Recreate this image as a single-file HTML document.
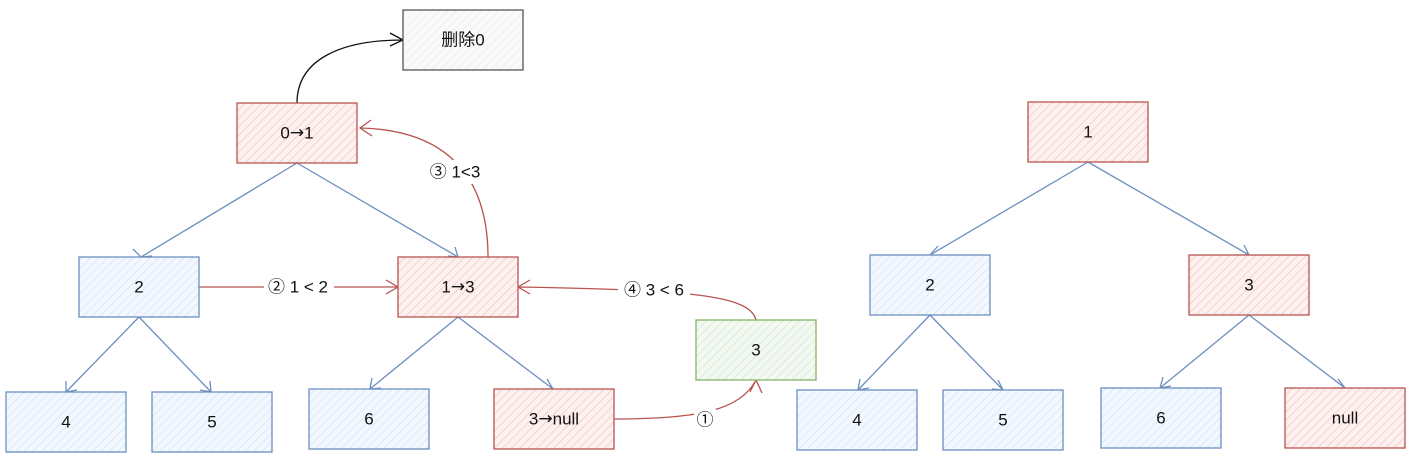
<!DOCTYPE html>
<html><head><meta charset="utf-8"><style>
html,body{margin:0;padding:0;background:#fff;}
svg{display:block;}
text{font-family:"Liberation Sans","Noto Sans CJK SC",sans-serif;font-size:17px;fill:#111;text-anchor:middle;dominant-baseline:central;}
tspan.a{font-family:"DejaVu Sans",sans-serif;}
</style></head><body>
<svg width="1413" height="461" viewBox="0 0 1413 461" xmlns="http://www.w3.org/2000/svg">
<defs>
<pattern id="hr" width="6" height="6" patternUnits="userSpaceOnUse" patternTransform="rotate(45)"><rect width="6" height="6" fill="#fdf1f0"/><line x1="0" y1="0" x2="0" y2="6" stroke="#f4c4c1" stroke-width="1.5"/></pattern>
<pattern id="hb" width="6" height="6" patternUnits="userSpaceOnUse" patternTransform="rotate(45)"><rect width="6" height="6" fill="#f3f8fe"/><line x1="0" y1="0" x2="0" y2="6" stroke="#d3e3fa" stroke-width="1.5"/></pattern>
<pattern id="hg" width="6" height="6" patternUnits="userSpaceOnUse" patternTransform="rotate(45)"><rect width="6" height="6" fill="#f3f9f2"/><line x1="0" y1="0" x2="0" y2="6" stroke="#d2e7cf" stroke-width="1.5"/></pattern>
<pattern id="hk" width="6" height="6" patternUnits="userSpaceOnUse" patternTransform="rotate(45)"><rect width="6" height="6" fill="#fafafa"/><line x1="0" y1="0" x2="0" y2="6" stroke="#ececec" stroke-width="1.5"/></pattern>
</defs>
<g fill="none" stroke-width="1.3">
<g stroke="#6c8ebf">
<path d="M297 163 L141 257 M133 249 L141 257 L152 256"/>
<path d="M297 163 L458 257 M448 256 L458 257 L455 247"/>
<path d="M139 317 L66 392 M66 381 L66 392 L77 390"/>
<path d="M139 317 L211 392 M210 381 L211 392 L200 390"/>
<path d="M458 317 L370 389 M372 378 L370 389 L381 388"/>
<path d="M458 317 L553 389 M547 379 L553 389 L542 389"/>
<path d="M1088 162 L930 255 M938 246 L930 255 L941 256"/>
<path d="M1088 162 L1249 255 M1244 245 L1249 255 L1238 255"/>
<path d="M930 315 L858 390 M860 379 L858 390 L869 388"/>
<path d="M930 315 L1003 390 M998 380 L1003 390 L992 389"/>
<path d="M1249 315 L1160 388 M1163 377 L1160 388 L1171 386"/>
<path d="M1249 315 L1345 388 M1338 379 L1345 388 L1335 388"/>
</g>
<path stroke="#111" d="M297 103 C297 60 340 40 403 40 M390 33 L403 40 L390 46"/>
<g stroke="#b85450">
<path d="M488 257 C488 180 450 130 360 128 M371 120 L360 128 L372 136"/>
<path d="M199 287 L398 287 M386 280 L398 287 L386 294"/>
<path d="M756 320 C750 295 690 290 518 287 M530 280 L518 287 L530 294"/>
<path d="M614 419 C700 419 740 410 756 380 M750 392 L756 380 L762 393"/>
</g>
</g>
<rect x="422" y="160" width="66" height="24" fill="#fff"/>
<rect x="264" y="276" width="70" height="22" fill="#fff"/>
<rect x="618" y="279" width="72" height="22" fill="#fff"/>
<rect x="694" y="409" width="22" height="22" fill="#fff"/>
<text x="455" y="172">③ 1&lt;3</text>
<text x="298" y="287">② 1 &lt; 2</text>
<text x="654" y="290">④ 3 &lt; 6</text>
<text x="705" y="420">①</text>
<g stroke-width="1.3">
<rect x="403" y="10" width="120" height="60" fill="url(#hk)" stroke="#555"/>
<rect x="237" y="103" width="120" height="60" fill="url(#hr)" stroke="#b85450"/>
<rect x="79" y="257" width="120" height="60" fill="url(#hb)" stroke="#6c8ebf"/>
<rect x="398" y="257" width="120" height="60" fill="url(#hr)" stroke="#b85450"/>
<rect x="6" y="392" width="120" height="60" fill="url(#hb)" stroke="#6c8ebf"/>
<rect x="152" y="392" width="120" height="60" fill="url(#hb)" stroke="#6c8ebf"/>
<rect x="309" y="389" width="120" height="60" fill="url(#hb)" stroke="#6c8ebf"/>
<rect x="494" y="389" width="120" height="60" fill="url(#hr)" stroke="#b85450"/>
<rect x="696" y="320" width="120" height="60" fill="url(#hg)" stroke="#82b366"/>
<rect x="1028" y="102" width="120" height="60" fill="url(#hr)" stroke="#b85450"/>
<rect x="870" y="255" width="120" height="60" fill="url(#hb)" stroke="#6c8ebf"/>
<rect x="1189" y="255" width="120" height="60" fill="url(#hr)" stroke="#b85450"/>
<rect x="797" y="390" width="120" height="60" fill="url(#hb)" stroke="#6c8ebf"/>
<rect x="943" y="390" width="120" height="60" fill="url(#hb)" stroke="#6c8ebf"/>
<rect x="1101" y="388" width="120" height="60" fill="url(#hb)" stroke="#6c8ebf"/>
<rect x="1285" y="388" width="120" height="60" fill="url(#hr)" stroke="#b85450"/>
</g>
<text x="463" y="40">删除0</text>
<text x="297" y="133">0<tspan class="a">→</tspan>1</text>
<text x="139" y="287">2</text>
<text x="458" y="287">1<tspan class="a">→</tspan>3</text>
<text x="66" y="422">4</text>
<text x="212" y="422">5</text>
<text x="369" y="419">6</text>
<text x="554" y="419">3<tspan class="a">→</tspan>null</text>
<text x="756" y="350">3</text>
<text x="1088" y="132">1</text>
<text x="930" y="285">2</text>
<text x="1249" y="285">3</text>
<text x="857" y="420">4</text>
<text x="1003" y="420">5</text>
<text x="1161" y="418">6</text>
<text x="1345" y="418">null</text>
</svg>
</body></html>
